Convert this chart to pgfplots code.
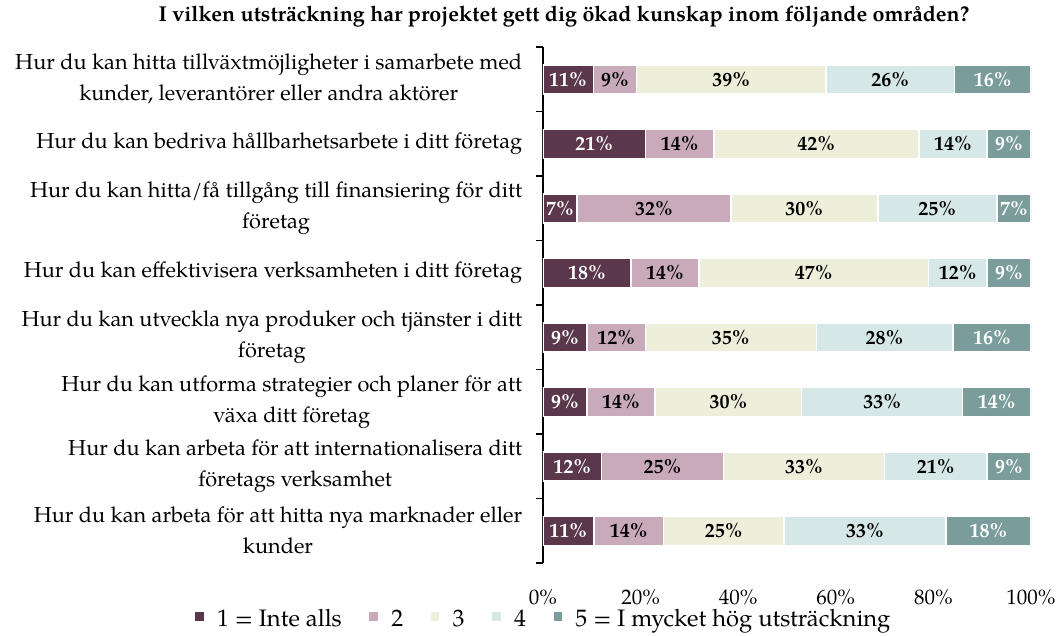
\documentclass[border=0pt]{standalone}
\usepackage{fontspec}
\setmainfont{texgyrepagella}[Extension=.otf, UprightFont=*-regular, BoldFont=*-bold, ItalicFont=*-italic, BoldItalicFont=*-bolditalic]
\usepackage{pgfplots}
\pgfplotsset{compat=1.18}
\usepackage{pgfplotstable}

\definecolor{cA}{HTML}{5A374B}
\definecolor{cB}{HTML}{C9AABA}
\definecolor{cC}{HTML}{EDEFDA}
\definecolor{cD}{HTML}{D5E8E7}
\definecolor{cE}{HTML}{7A9D9B}

\pgfplotstableread{
y x lab
0 10.3 11
1 21 21
2 7.0 7
3 18 18
4 9 9
5 9 9
6 12 12
7 10.4 11
}\dataA
\pgfplotstableread{
y x lab
0 8.9 9
1 14 14
2 31.5 32
3 14 14
4 12 12
5 14 14
6 25 25
7 14.3 14
}\dataB
\pgfplotstableread{
y x lab
0 38.8 39
1 42 42
2 30.1 30
3 47 47
4 35 35
5 30 30
6 33 33
7 24.7 25
}\dataC
\pgfplotstableread{
y x lab
0 26.3 26
1 14 14
2 24.4 25
3 12 12
4 28 28
5 33 33
6 21 21
7 33.2 33
}\dataD
\pgfplotstableread{
y x lab
0 15.7 16
1 9 9
2 7.0 7
3 9 9
4 16 16
5 14 14
6 9 9
7 17.4 18
}\dataE

\begin{document}
\begin{tikzpicture}
\useasboundingbox (0pt,0pt) rectangle (1060pt,635pt);
\begin{axis}[
  at={(543pt,72pt)}, anchor=south west,
  scale only axis, width=488pt, height=516pt,
  xbar stacked, bar width=29pt,
  xmin=0, xmax=100, ymin=-0.5, ymax=7.5,
  y dir=reverse,
  axis lines*=left,
  x axis line style={draw=none},
  y axis line style={line width=1.4pt, black},
  xtick={0,20,...,100},
  xticklabel={\pgfmathprintnumber{\tick}\%},
  /pgf/number format/assume math mode=true,
  xticklabel style={font=\fontsize{21}{25}\selectfont, yshift=-19pt},
  x tick style={draw=none},
  ytick={0,...,7},
  y tick style={draw=none},
  minor ytick={-0.5,0.5,...,7.5},
  minor y tick style={draw=black, line width=1.3pt},
  minor tick length=7pt,
  tick align=outside,
  yticklabels={
    {Hur du kan hitta tillväxtmöjligheter i samarbete med\\kunder, leverantörer eller andra aktörer},
    {Hur du kan bedriva hållbarhetsarbete i ditt företag},
    {Hur du kan hitta/få tillgång till finansiering för ditt\\företag},
    {Hur du kan effektivisera verksamheten i ditt företag},
    {Hur du kan utveckla nya produker och tjänster i ditt\\företag},
    {Hur du kan utforma strategier och planer för att\\växa ditt företag},
    {Hur du kan arbeta för att internationalisera ditt\\företags verksamhet},
    {Hur du kan arbeta för att hitta nya marknader eller\\kunder}},
  yticklabel style={align=center, font=\fontsize{21.7}{31}\selectfont, xshift=-13pt},
  point meta=explicit symbolic,
  nodes near coords={\textbf{\pgfplotspointmeta\%}},
  every node near coord/.append style={font=\fontsize{20}{24}\selectfont},
  legend columns=5,
  legend style={at={(0,-0.108)}, anchor=center, draw=none, fill=none,
    font=\fontsize{23.8}{28}\selectfont,
    /tikz/every even column/.append style={column sep=24pt}},
  legend image code/.code={\fill[#1] (0pt,-3pt) rectangle (10pt,7pt);\path (0pt,-3pt) -- (20pt,-3pt);},
]
\addplot[fill=cA, draw=white, line width=1.5pt, every node near coord/.append style={text=white}] table[x=x,y=y,meta=lab]{\dataA};
\addplot[fill=cB, draw=white, line width=1.5pt, every node near coord/.append style={text=black}] table[x=x,y=y,meta=lab]{\dataB};
\addplot[fill=cC, draw=white, line width=1.5pt, every node near coord/.append style={text=black}] table[x=x,y=y,meta=lab]{\dataC};
\addplot[fill=cD, draw=white, line width=1.5pt, every node near coord/.append style={text=black}] table[x=x,y=y,meta=lab]{\dataD};
\addplot[fill=cE, draw=white, line width=1.5pt, every node near coord/.append style={text=white}] table[x=x,y=y,meta=lab]{\dataE};
\legend{1 = Inte alls, 2, 3, 4, 5 = I mycket hög utsträckning}
\end{axis}
\node[font=\bfseries\fontsize{21.5}{26}\selectfont] at (564pt,618pt) {I vilken utsträckning har projektet gett dig ökad kunskap inom följande områden?};
\end{tikzpicture}
\end{document}
